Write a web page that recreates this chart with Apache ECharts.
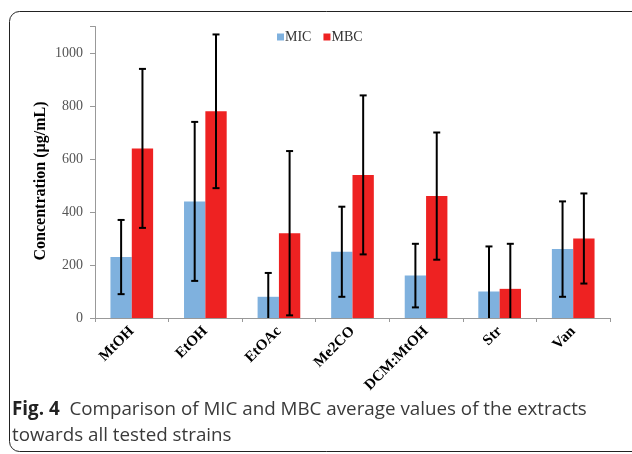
<!DOCTYPE html>
<html><head><meta charset="utf-8">
<script src="https://cdn.jsdelivr.net/npm/echarts@6/dist/echarts.min.js"></script>
<style>html,body{margin:0;padding:0;background:#fff}#c{width:632px;height:454px}</style>
</head><body><div id="c"></div>
<script>
const categories = ['MtOH','EtOH','EtOAc','Me2CO','DCM:MtOH','Str','Van'];
const micValues = [230, 440, 80, 250, 160, 100, 260];
const mbcValues = [640, 780, 320, 540, 460, 110, 300];
const micLow  = [90, 140, -10, 80, 40, -70, 80];
const micHigh = [370, 740, 170, 420, 280, 270, 440];
const mbcLow  = [340, 490, 10, 240, 220, -60, 130];
const mbcHigh = [940, 1070, 630, 840, 700, 280, 470];
const yTicks = [0, 200, 400, 600, 800, 1000];

const chart = echarts.init(document.getElementById('c'));
const GAP = 0.42;
function errSeries(low, high, idx) {
  return {
    type: 'custom', z: 10,
    data: categories.map((c, i) => [i, low[i], high[i]]),
    renderItem: function (params, api) {
      const i = api.value(0);
      const band = api.size([1, 0])[0];
      const bw = band * (1 - GAP) / 2;
      const cx = api.coord([i, 0])[0] + (idx === 0 ? -bw / 2 : bw / 2);
      const lo = api.value(1), hi = api.value(2);
      const yLo = api.coord([i, Math.max(lo, 0)])[1];
      const yHi = api.coord([i, hi])[1];
      const st = { stroke: '#000', lineWidth: 2 };
      const ch = [
        { type: 'line', shape: { x1: cx, y1: yLo, x2: cx, y2: yHi }, style: st },
        { type: 'line', shape: { x1: cx - 3.5, y1: yHi, x2: cx + 3.5, y2: yHi }, style: st }
      ];
      if (lo >= 0) ch.push({ type: 'line', shape: { x1: cx - 3.5, y1: yLo, x2: cx + 3.5, y2: yLo }, style: st });
      return { type: 'group', children: ch };
    }
  };
}
chart.setOption({
  animation: false,
  graphic: [
    { type: 'rect', shape: { x: 9.5, y: 11.5, width: 640, height: 440, r: 10 }, style: { fill: 'none', stroke: '#222', lineWidth: 1 }, z: -1 },
    { type: 'text', left: 12, top: 397, style: { text: '{b|Fig. 4}  Comparison of MIC and MBC average values of the extracts\ntowards all tested strains', font: '18.8px "Open Sans"', fill: '#3a3a3a', lineHeight: 26, rich: { b: { font: 'bold 18.8px "Open Sans"', fill: '#222' } } } },
    { type: 'text', x: 41, y: 181, rotation: Math.PI / 2, style: { text: 'Concentration (µg/mL)', font: 'bold 16px "Liberation Serif"', fill: '#000', align: 'center', verticalAlign: 'middle' } }
  ],
  legend: {
    top: 25, left: 272, itemWidth: 7, itemHeight: 7, itemGap: 12,
    icon: 'rect',
    textStyle: { fontFamily: 'Liberation Serif', fontSize: 14, color: '#333', padding: [0, 0, 0, -4] },
    data: ['MIC', 'MBC']
  },
  grid: { left: 95, right: 22, top: 26.5, bottom: 136 },
  xAxis: {
    type: 'category', data: categories,
    axisLine: { lineStyle: { color: '#999' } },
    axisTick: { show: true, length: 4, lineStyle: { color: '#999' } },
    axisLabel: { rotate: 45, fontFamily: 'Liberation Serif', fontWeight: 'bold', fontSize: 15, color: '#000', margin: 11, interval: 0 }
  },
  yAxis: {
    type: 'value', min: 0, max: 1100, interval: 200,
    axisLine: { show: true, lineStyle: { color: '#999' } },
    axisTick: { show: true, length: 5, lineStyle: { color: '#999' } },
    splitLine: { show: false },
    axisLabel: { fontFamily: 'Liberation Serif', fontSize: 14, color: '#555', margin: 12,
      formatter: v => yTicks.indexOf(v) >= 0 ? String(v) : '' }
  },
  series: [
    { name: 'MIC', type: 'bar', data: micValues, barGap: 0, barCategoryGap: (GAP * 100) + '%',
      itemStyle: { color: '#7fb1de' } },
    { name: 'MBC', type: 'bar', data: mbcValues, barGap: 0, barCategoryGap: (GAP * 100) + '%',
      itemStyle: { color: '#ee2222' } },
    errSeries(micLow, micHigh, 0),
    errSeries(mbcLow, mbcHigh, 1)
  ]
});
</script></body></html>
